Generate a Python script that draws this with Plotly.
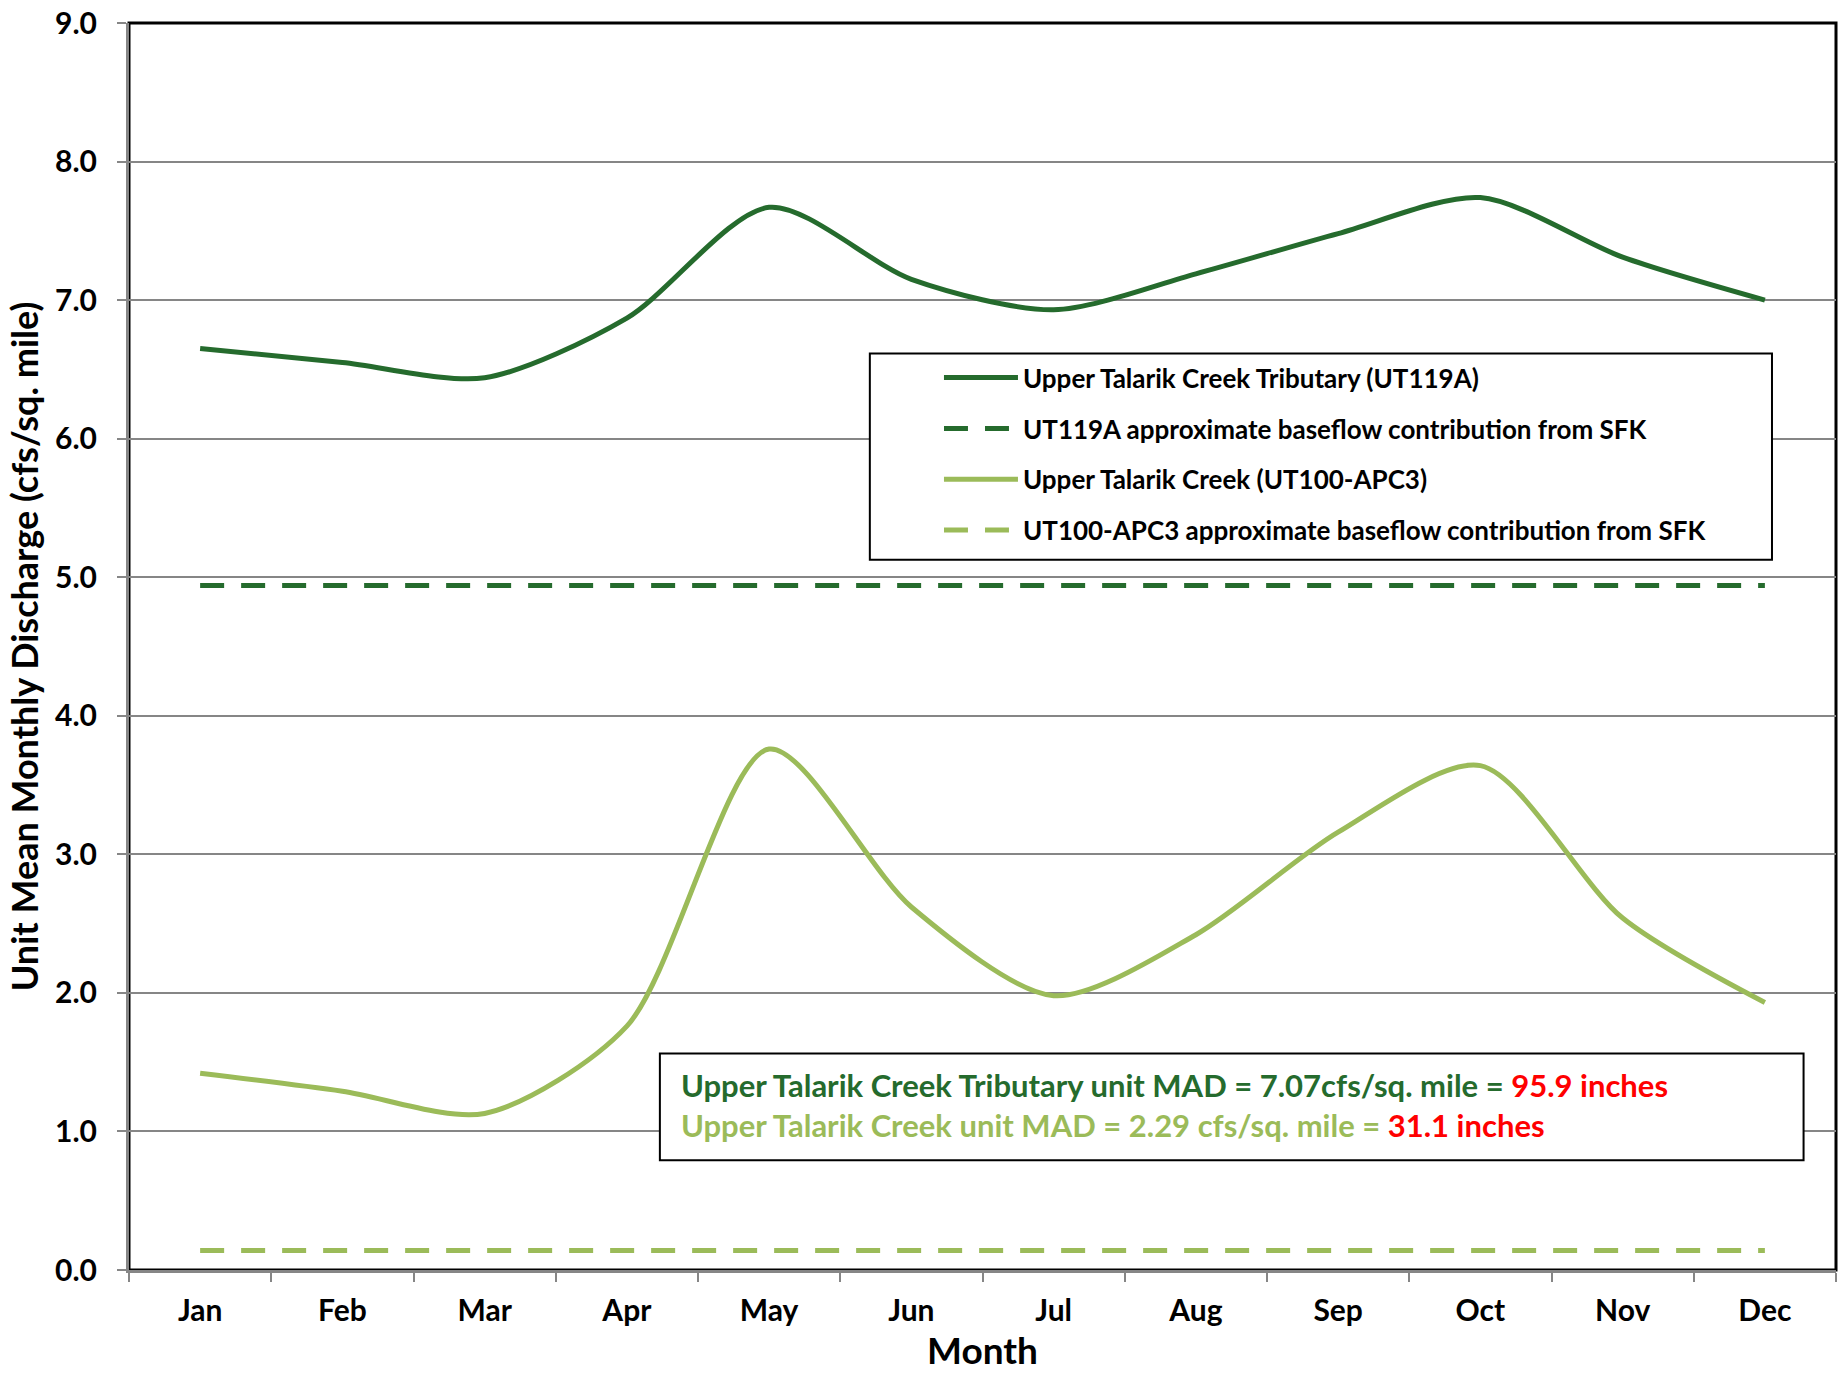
import plotly.graph_objects as go

# monthly unit discharge (cfs/sq. mile)
months = ['Jan', 'Feb', 'Mar', 'Apr', 'May', 'Jun', 'Jul', 'Aug', 'Sep', 'Oct', 'Nov', 'Dec']
ut119a = [6.65, 6.55, 6.44, 6.87, 7.67, 7.15, 6.93, 7.19, 7.48, 7.74, 7.31, 7.00]
ut119a_base = [4.94] * 12
ut100 = [1.42, 1.29, 1.13, 1.76, 3.76, 2.62, 1.98, 2.42, 3.16, 3.64, 2.54, 1.93]
ut100_base = [0.14] * 12

y_ticks = [0, 1, 2, 3, 4, 5, 6, 7, 8, 9]

DARK = '#256B2D'
LIGHT = '#9BBB59'
FONT = 'Lato'

fig = go.Figure()

fig.add_trace(go.Scatter(x=months, y=ut119a, mode='lines', name='Upper Talarik Creek Tributary (UT119A)',
                         line=dict(color=DARK, width=5, shape='spline', smoothing=0.8), legendgroup='a'))
fig.add_trace(go.Scatter(x=months, y=ut119a_base, mode='lines', name='UT119A approximate baseflow contribution from SFK',
                         line=dict(color=DARK, width=5, dash='24px,17px'), legendgroup='b'))
fig.add_trace(go.Scatter(x=months, y=ut100, mode='lines', name='Upper Talarik Creek (UT100-APC3)',
                         line=dict(color=LIGHT, width=5, shape='spline', smoothing=0.8), legendgroup='c'))
fig.add_trace(go.Scatter(x=months, y=ut100_base, mode='lines', name='UT100-APC3 approximate baseflow contribution from SFK',
                         line=dict(color=LIGHT, width=5, dash='24px,17px'), legendgroup='d'))

# black frame on top / right
fig.add_shape(type='rect', xref='paper', yref='paper', x0=0, x1=1, y0=0, y1=1,
              line=dict(color='black', width=3), layer='below')

# legend box
fig.add_shape(type='rect', xref='paper', yref='paper', x0=0.434, x1=0.9625, y0=0.5696, y1=0.735,
              line=dict(color='black', width=2), fillcolor='white', layer='above')

# MAD summary box
fig.add_shape(type='rect', xref='paper', yref='paper', x0=0.311, x1=0.981, y0=0.088, y1=0.1736,
              line=dict(color='black', width=2), fillcolor='white', layer='above')
mad_text = ('<span style="color:%s">Upper Talarik Creek Tributary unit MAD = 7.07cfs/sq. mile = </span>'
            '<span style="color:#FF0000">95.9 inches</span><br>'
            '<span style="color:%s">Upper Talarik Creek unit MAD = 2.29 cfs/sq. mile = </span>'
            '<span style="color:#FF0000">31.1 inches</span>') % (DARK, LIGHT)
fig.add_annotation(text=mad_text, xref='paper', yref='paper', x=0.322, y=0.132,
                   xanchor='left', yanchor='middle', align='left', showarrow=False,
                   font=dict(family=FONT, size=31, weight='bold'))

fig.update_layout(
    width=1839, height=1373,
    margin=dict(l=129, r=3, t=20, b=103),
    plot_bgcolor='white', paper_bgcolor='white',
    font=dict(family=FONT, color='black'),
    legend=dict(x=0.4745, y=0.7344, xanchor='left', yanchor='top',
                borderwidth=0, bgcolor='rgba(0,0,0,0)',
                font=dict(family=FONT, size=26, weight='bold'),
                tracegroupgap=14, itemwidth=74, traceorder='grouped'),
    xaxis=dict(
        type='category', range=[-0.5, 11.5],
        showline=True, linecolor='#868686', linewidth=3,
        ticks='outside', tickson='boundaries', ticklen=9, tickcolor='#868686', tickwidth=2,
        ticklabelstandoff=12,
        tickfont=dict(family=FONT, size=30, weight='bold'),
        showgrid=False,
        title=dict(text='Month', font=dict(family=FONT, size=37, weight='bold'), standoff=12),
    ),
    yaxis=dict(
        range=[0, 9], tickvals=y_ticks, tickformat='.1f',
        showline=True, linecolor='#868686', linewidth=3,
        ticks='outside', ticklen=9, tickcolor='#868686', tickwidth=2,
        ticklabelstandoff=14,
        tickfont=dict(family=FONT, size=30, weight='bold'),
        showgrid=True, gridcolor='#868686', gridwidth=2, zeroline=False,
        title=dict(text='Unit Mean Monthly Discharge (cfs/sq. mile)',
                   font=dict(family=FONT, size=36, weight='bold'), standoff=6),
    ),
)

fig.write_html('out.html', config={'displayModeBar': False},
               post_script="document.body.style.margin='0';document.body.style.overflow='hidden';")
